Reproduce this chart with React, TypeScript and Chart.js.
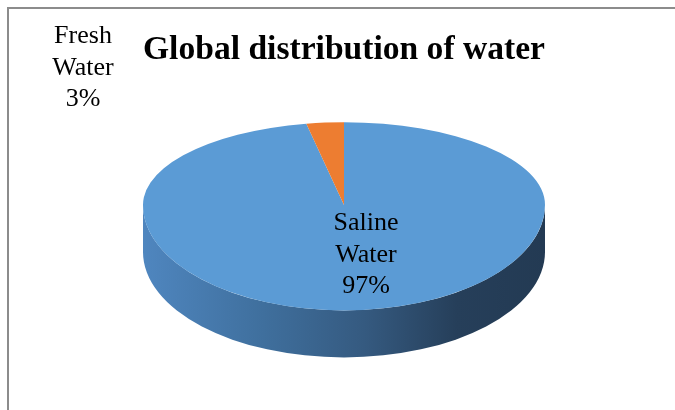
import React, { useEffect, useRef } from "react";
import { Chart, registerables } from "chart.js";

Chart.register(...registerables);

const TITLE = "Global distribution of water";
const CATEGORIES = ["Saline Water", "Fresh Water"];
const SHARES = [97, 3];
const FACE_COLORS = ["#5b9bd5", "#ed7d31"];
// shading of the extruded rim, left to right
const RIM_STOPS = [
  [
    [0, "#4f86bf"],
    [0.3, "#3f6f9d"],
    [0.55, "#355a80"],
    [0.78, "#263f5a"],
    [1, "#233a53"],
  ],
  [
    [0, "#c5682a"],
    [1, "#7a3f18"],
  ],
];

const CANVAS_W = 671;
const CANVAS_H = 410;

// Text blocks for each slice: centre x and first baseline, in canvas pixels
const LABEL_SPOTS = [
  { x: 357, y: 221 },
  { x: 74, y: 34 },
];

const pie3d = {
  id: "pie3d",
  beforeDatasetsDraw(chart: any, _args: any, opts: any) {
    const ctx: CanvasRenderingContext2D = chart.ctx;
    const meta = chart.getDatasetMeta(0);
    const arcs = meta.data as any[];
    if (!arcs.length) return;
    const ca = chart.chartArea;
    const rx = (ca.right - ca.left) / 2;
    const cx = (ca.left + ca.right) / 2;
    const faceH = ca.bottom - ca.top - opts.depth;
    const ryBack = faceH * opts.backShare;
    const ryFront = faceH - ryBack;
    const cy = Math.round(ca.top + ryBack);
    const depth = opts.depth;
    const r = arcs[0].outerRadius;
    const ox = arcs[0].x;
    const oy = arcs[0].y;

    // rim (front half only is visible)
    arcs.forEach((arc, i) => {
      const s0 = arc.startAngle;
      const e0 = arc.endAngle;
      for (const k of [-2, -1, 0, 1]) {
        const s = Math.max(s0 + k * 2 * Math.PI, 0);
        const e = Math.min(e0 + k * 2 * Math.PI, Math.PI);
        if (e <= s) continue;
        const g = ctx.createLinearGradient(cx - rx, 0, cx + rx, 0);
        (opts.rimStops[i] || [[0, "#333"], [1, "#333"]]).forEach((st: any) =>
          g.addColorStop(st[0], st[1])
        );
        ctx.save();
        ctx.beginPath();
        ctx.ellipse(cx, cy, rx, ryFront, 0, s, e, false);
        ctx.ellipse(cx, cy + depth, rx, ryFront, 0, e, s, true);
        ctx.closePath();
        ctx.fillStyle = g;
        ctx.fill();
        ctx.restore();
      }
    });

    // top face, far half and near half with their own foreshortening
    const halves = [
      { top: ca.top - 4, bottom: cy, ry: ryBack },
      { top: cy, bottom: ca.bottom + 4, ry: ryFront },
    ];
    halves.forEach((h) => {
      ctx.save();
      ctx.beginPath();
      ctx.rect(0, h.top, chart.width, h.bottom - h.top);
      ctx.clip();
      ctx.translate(cx, cy);
      ctx.scale(rx / r, h.ry / r);
      ctx.translate(-ox, -oy);
      arcs.forEach((a) => a.draw(ctx, ca));
      ctx.restore();
    });
    return false;
  },
  afterDraw(chart: any, _args: any, opts: any) {
    const ctx: CanvasRenderingContext2D = chart.ctx;
    const labels = chart.data.labels as string[];
    const values = chart.data.datasets[0].data as number[];
    ctx.save();
    ctx.font = `${opts.labelSize}px 'Liberation Serif', serif`;
    ctx.fillStyle = "#000";
    ctx.textAlign = "center";
    ctx.textBaseline = "alphabetic";
    labels.forEach((lab, i) => {
      const spot = opts.spots[i];
      if (!spot) return;
      const lines = [...lab.split(" "), `${values[i]}%`];
      lines.forEach((ln, j) => ctx.fillText(ln, spot.x, spot.y + j * opts.lineGap));
    });
    ctx.restore();
  },
};

export default function App() {
  const ref = useRef<HTMLCanvasElement | null>(null);

  useEffect(() => {
    if (!ref.current) return;
    const chart = new Chart(ref.current, {
      type: "pie",
      data: {
        labels: CATEGORIES,
        datasets: [
          {
            data: SHARES,
            backgroundColor: FACE_COLORS,
            borderWidth: 0,
          },
        ],
      },
      options: {
        animation: false,
        responsive: false,
        events: [],
        layout: { padding: { left: 134, right: 135, top: 0, bottom: 62 } },
        plugins: {
          legend: { display: false },
          tooltip: { enabled: false },
          title: {
            display: true,
            text: TITLE,
            color: "#000",
            font: { family: "'Liberation Serif', serif", size: 34, weight: "bold" },
            padding: { top: 21, bottom: 51 },
          },
          pie3d: {
            depth: 47,
            backShare: 0.44,
            rimStops: RIM_STOPS,
            spots: LABEL_SPOTS,
            labelSize: 26,
            lineGap: 31.5,
          },
        } as any,
      },
      plugins: [pie3d],
    });
    return () => chart.destroy();
  }, []);

  return (
    <div
      style={{
        position: "fixed",
        left: 7,
        top: 7,
        width: 668,
        height: 403,
        overflow: "hidden",
      }}
    >
      <div
        style={{
          border: "2px solid #8c8c8c",
          width: CANVAS_W,
          height: CANVAS_H,
          background: "#fff",
        }}
      >
        <canvas
          ref={ref}
          width={CANVAS_W}
          height={CANVAS_H}
          style={{ display: "block", width: CANVAS_W, height: CANVAS_H }}
        />
      </div>
    </div>
  );
}
